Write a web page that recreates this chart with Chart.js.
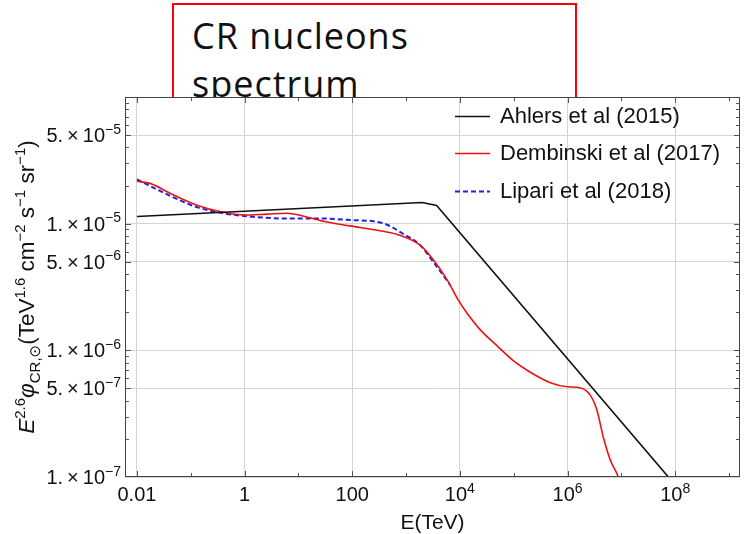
<!DOCTYPE html>
<html lang="en">
<head>
<meta charset="UTF-8" />
<title>CR nucleons spectrum</title>
<script src="https://cdn.jsdelivr.net/npm/chart.js"></script>
<style>
  html, body { margin: 0; padding: 0; background: #fff; }
  .wrap { position: relative; width: 744px; height: 534px; overflow: hidden; }
  .note {
    position: absolute; left: 172px; top: 3px; width: 405px; height: 150px;
    box-sizing: border-box; border: 2px solid #ff0000;
    padding: 7px 0 0 18px;
    font: 36px/48px "Open Sans", sans-serif; letter-spacing: 1px; color: #111;
  }
  canvas { position: absolute; left: 0; top: 0; }
</style>
</head>
<body>
<div class="wrap">
  <div class="note">CR nucleons<br>spectrum</div>
  <canvas id="spectrum" width="744" height="534"></canvas>
</div>
<script>
// values (E in TeV, flux in TeV^1.6 cm^-2 s^-1 sr^-1)
const ahlersE = [0.01, 2000, 3700, 1e8];
const ahlersFlux = [1.14e-5, 1.47e-5, 1.39e-5, 8.65e-8];

const dembinskiE = [0.01, 0.0175, 0.041, 0.13, 0.4, 1, 2.6, 6.1, 12, 34,
  91, 370, 770, 1800, 3200, 5800, 9300, 1.35e4, 2.4e4, 5.1e4,
  9.8e4, 2.0e5, 4.8e5, 9.8e5, 1.7e6, 2.6e6, 3.5e6, 4.6e6, 6.2e6, 8.7e6, 1.2e7];
const dembinskiFlux = [2.16e-5, 2.08e-5, 1.74e-5, 1.40e-5, 1.23e-5, 1.17e-5, 1.19e-5, 1.21e-5, 1.15e-5, 1.03e-5,
  9.6e-6, 8.7e-6, 8.1e-6, 6.8e-6, 5.2e-6, 3.6e-6, 2.5e-6, 1.97e-6, 1.45e-6, 1.07e-6,
  8.3e-7, 6.75e-7, 5.55e-7, 5.16e-7, 5.07e-7, 4.47e-7, 3.4e-7, 2.08e-7, 1.37e-7, 1.01e-7, 6.5e-8];

const lipariE = [0.01, 0.03, 0.13, 0.4, 1, 5.2, 22, 91, 370, 850, 1800, 3200, 6600];
const lipariFlux = [2.24e-5, 1.77e-5, 1.35e-5, 1.21e-5, 1.15e-5, 1.10e-5, 1.10e-5, 1.07e-5, 1.01e-5, 8.4e-6, 6.8e-6, 5.0e-6, 3.28e-6];

const seriesNames = ['Ahlers et al (2015)', 'Dembinski et al (2017)', 'Lipari et al (2018)'];

// axis ticks
const xTickValues = [0.01, 1, 100, 1e4, 1e6, 1e8];
const xTickLabels = [['0.01', ''], ['1', ''], ['100', ''], ['10', '4'], ['10', '6'], ['10', '8']];
const yTickValues = [1e-7, 5e-7, 1e-6, 5e-6, 1e-5, 5e-5];
const yTickLabels = [['1.\u2009×\u200910', '−7'], ['5.\u2009×\u200910', '−7'], ['1.\u2009×\u200910', '−6'],
  ['5.\u2009×\u200910', '−6'], ['1.\u2009×\u200910', '−5'], ['5.\u2009×\u200910', '−5']];

const FONT = '"Liberation Sans", "DejaVu Sans", Arial, sans-serif';

const toPoints = (xs, ys) => xs.map((x, i) => ({ x: x, y: ys[i] }));

// text made of normal / superscript / subscript runs
function runFont(r, size) {
  const s = r.f === 'sup' || r.f === 'sub' ? Math.round(size * 0.68) : size;
  return (r.i ? 'italic ' : '') + s + 'px ' + FONT;
}
function runsWidth(ctx, runs, size) {
  let w = 0;
  runs.forEach(r => { ctx.font = runFont(r, size); w += ctx.measureText(r.t).width; });
  return w;
}
function drawRuns(ctx, runs, x, y, size) {
  runs.forEach(r => {
    ctx.font = runFont(r, size);
    let dy = 0;
    if (r.f === 'sup') dy = -size * 0.42;
    if (r.f === 'sub') dy = size * 0.25;
    ctx.fillText(r.t, x, y + dy);
    x += ctx.measureText(r.t).width;
  });
}

const decorations = {
  id: 'decorations',
  beforeDraw(chart) {
    const { ctx, chartArea: a } = chart;
    ctx.save();
    ctx.fillStyle = '#fff';
    ctx.fillRect(a.left, a.top, a.right - a.left, a.bottom - a.top);
    ctx.restore();
  },
  afterDraw(chart) {
    const { ctx, chartArea: a, scales: { x, y } } = chart;
    ctx.save();

    // inward minor ticks
    ctx.strokeStyle = '#555';
    ctx.lineWidth = 1;
    ctx.beginPath();
    for (let k = -2; k <= 9; k++) {
      const px = Math.round(x.getPixelForValue(Math.pow(10, k))) + 0.5;
      if (px < a.left || px > a.right) continue;
      const len = k % 2 === 0 ? 6 : 4;
      ctx.moveTo(px, a.bottom); ctx.lineTo(px, a.bottom - len);
      ctx.moveTo(px, a.top); ctx.lineTo(px, a.top + len);
    }
    for (let k = -7; k <= -5; k++) {
      for (let m = 1; m <= 9; m++) {
        const py = Math.round(y.getPixelForValue(m * Math.pow(10, k))) + 0.5;
        if (py < a.top || py > a.bottom) continue;
        const len = (m === 1 || m === 5) ? 6 : 4;
        ctx.moveTo(a.left, py); ctx.lineTo(a.left + len, py);
        ctx.moveTo(a.right, py); ctx.lineTo(a.right - len, py);
      }
    }
    ctx.stroke();

    // frame
    ctx.strokeStyle = '#444';
    ctx.strokeRect(Math.round(a.left) + 0.5, Math.round(a.top) + 0.5,
      Math.round(a.right - a.left) - 1, Math.round(a.bottom - a.top) - 1);

    ctx.fillStyle = '#111';
    ctx.textBaseline = 'alphabetic';
    ctx.textAlign = 'left';

    // x tick labels
    xTickValues.forEach((v, i) => {
      const runs = [{ t: xTickLabels[i][0] }];
      if (xTickLabels[i][1]) runs.push({ t: xTickLabels[i][1], f: 'sup' });
      const w = runsWidth(ctx, runs, 20);
      drawRuns(ctx, runs, x.getPixelForValue(v) - w / 2, 501, 20);
    });

    // y tick labels
    yTickValues.forEach((v, i) => {
      const runs = [{ t: yTickLabels[i][0] }, { t: yTickLabels[i][1], f: 'sup' }];
      const w = runsWidth(ctx, runs, 20);
      drawRuns(ctx, runs, a.left - 4 - w, y.getPixelForValue(v) + 7, 20);
    });

    // x title
    const xt = [{ t: 'E(TeV)' }];
    drawRuns(ctx, xt, (a.left + a.right) / 2 - runsWidth(ctx, xt, 21) / 2, 529, 21);

    // y title
    const yt = [{ t: 'E', i: 1 }, { t: '2.6', f: 'sup' }, { t: 'φ', i: 1 }, { t: 'CR,⊙', f: 'sub' },
      { t: '(TeV' }, { t: '1.6', f: 'sup' }, { t: ' cm' }, { t: '−2', f: 'sup' }, { t: ' s' },
      { t: '−1', f: 'sup' }, { t: ' sr' }, { t: '−1', f: 'sup' }, { t: ')' }];
    ctx.translate(34, (a.top + a.bottom) / 2);
    ctx.rotate(-Math.PI / 2);
    drawRuns(ctx, yt, -runsWidth(ctx, yt, 22.5) / 2, 0, 22.5);
    ctx.setTransform(1, 0, 0, 1, 0, 0);

    // legend
    const legendY = [116, 153, 191];
    chart.data.datasets.forEach((ds, i) => {
      ctx.strokeStyle = ds.borderColor;
      ctx.lineWidth = ds.borderWidth;
      ctx.setLineDash(ds.borderDash || []);
      ctx.beginPath();
      ctx.moveTo(455, legendY[i] + 0.5);
      ctx.lineTo(490, legendY[i] + 0.5);
      ctx.stroke();
      ctx.setLineDash([]);
      ctx.fillStyle = '#111';
      ctx.font = '22px ' + FONT;
      ctx.textBaseline = 'middle';
      ctx.fillText(ds.label, 500, legendY[i] + 1);
    });
    ctx.restore();
  }
};

new Chart(document.getElementById('spectrum'), {
  type: 'line',
  data: {
    datasets: [
      {
        label: seriesNames[0],
        data: toPoints(ahlersE, ahlersFlux),
        borderColor: '#111111',
        borderWidth: 1.6,
        tension: 0,
        pointRadius: 0
      },
      {
        label: seriesNames[1],
        data: toPoints(dembinskiE, dembinskiFlux),
        borderColor: '#ee1111',
        borderWidth: 1.6,
        cubicInterpolationMode: 'monotone',
        pointRadius: 0
      },
      {
        label: seriesNames[2],
        data: toPoints(lipariE, lipariFlux),
        borderColor: '#2020dd',
        borderWidth: 2,
        borderDash: [5, 3],
        cubicInterpolationMode: 'monotone',
        pointRadius: 0
      }
    ]
  },
  options: {
    responsive: false,
    animation: false,
    layout: { padding: { top: 97, right: 4, left: 0, bottom: 0 } },
    plugins: { legend: { display: false }, tooltip: { enabled: false } },
    scales: {
      x: {
        type: 'logarithmic',
        min: 0.006,
        max: 1.6e9,
        afterBuildTicks: s => { s.ticks = xTickValues.map(v => ({ value: v })); },
        afterFit: s => { s.height = 57; },
        grid: { color: '#d4d4d4', drawTicks: false },
        border: { display: false },
        ticks: { display: false }
      },
      y: {
        type: 'logarithmic',
        min: 1e-7,
        max: 1e-4,
        afterBuildTicks: s => { s.ticks = yTickValues.map(v => ({ value: v })); },
        afterFit: s => { s.width = 125; },
        grid: { color: '#d4d4d4', drawTicks: false },
        border: { display: false },
        ticks: { display: false }
      }
    }
  },
  plugins: [decorations]
});
</script>
</body>
</html>
